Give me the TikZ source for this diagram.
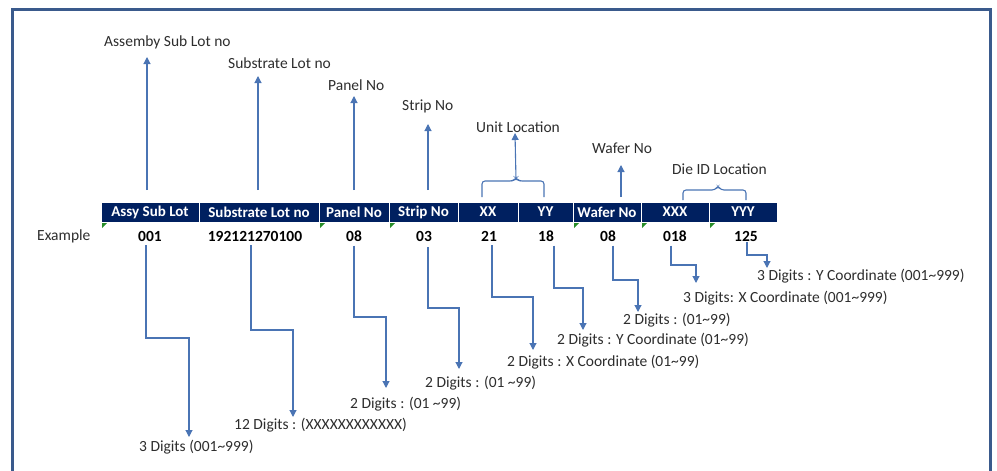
\documentclass[tikz,border=0pt]{standalone}
\usepackage{fontspec}
\setmainfont{Carlito}
\usetikzlibrary{arrows.meta}
\definecolor{frameblue}{RGB}{58,90,140}
\definecolor{navy}{RGB}{0,32,96}
\definecolor{arrblue}{RGB}{74,116,180}
\definecolor{errgreen}{RGB}{40,140,40}
\definecolor{txt}{RGB}{45,45,45}
\tikzset{
  cell/.style={draw=white, line width=0.8pt, fill=navy, text=white, font=\fontsize{15}{18}\selectfont\bfseries, minimum height=20pt, inner sep=0pt, anchor=center},
  val/.style={font=\fontsize{15.5}{18}\selectfont\bfseries, text=black, inner sep=0pt},
  lab/.style={font=\fontsize{15.5}{18}\selectfont, text=txt, inner sep=0pt, anchor=west},
  arr/.style={draw=arrblue, line width=1.1pt, -{Triangle[length=7pt,width=7pt]}},
  brc/.style={draw=arrblue, line width=1.1pt, rounded corners=3pt},
  errtri/.style={fill=errgreen, draw=none}
}
\begin{document}
\begin{tikzpicture}[x=1pt,y=-1pt]
\useasboundingbox (0,0) rectangle (997,471);
% frame
\draw[frameblue, line width=3pt] (12,475) -- (12,9.5) -- (990,9.5) -- (990,475);

% header cells
\node[cell, minimum width=98pt]  (c1) at (150,212)   {Assy Sub Lot};
\node[cell, minimum width=120pt] (c2) at (259,212)   {Substrate Lot no};
\node[cell, minimum width=70pt]  (c3) at (354,212)   {Panel No};
\node[cell, minimum width=69pt]  (c4) at (423.5,212) {Strip No};
\node[cell, minimum width=60pt]  (c5) at (488,212)   {XX};
\node[cell, minimum width=55pt]  (c6) at (545.5,212) {YY};
\node[cell, minimum width=68pt]  (c7) at (607,212)   {Wafer No};
\node[cell, minimum width=68pt]  (c8) at (675,212)   {XXX};
\node[cell, minimum width=68pt]  (c9) at (743,212)   {YYY};

% error triangles
\foreach \x in {101,319,389,573,641,709}{
  \fill[errtri] (\x+1,223) -- (\x+6,223) -- (\x+1,228) -- cycle;
}

% example row
\node[lab] (ex) at (37,236) {Example};
\node[val] (v1) at (150,236) {001};
\node[val] (v2) at (255,236) {192121270100};
\node[val] (v3) at (354,236) {08};
\node[val] (v4) at (424,236) {03};
\node[val] (v5) at (489,236) {21};
\node[val] (v6) at (546,236) {18};
\node[val] (v7) at (608,236) {08};
\node[val] (v8) at (675,236) {018};
\node[val] (v9) at (746,236) {125};

% top labels
\node[lab] (t1) at (104,42)  {Assemby Sub Lot no};
\node[lab] (t2) at (228,63)  {Substrate Lot no};
\node[lab] (t3) at (328,85)  {Panel No};
\node[lab] (t4) at (402,106) {Strip No};
\node[lab] (t5) at (476,127) {Unit Location};
\node[lab] (t6) at (592,148) {Wafer No};
\node[lab] (t7) at (672,169) {Die ID Location};

% top arrows
\coordinate (a1) at (147,190);
\coordinate (a2) at (258,190);
\coordinate (a3) at (354,190);
\coordinate (a4) at (428,190);
\coordinate (a5) at (516,179);
\coordinate (a6) at (621,197);
\draw[arr] (a1) -- (147,57);
\draw[arr] (a2) -- (258,76);
\draw[arr] (a3) -- (354,96);
\draw[arr] (a4) -- (428,124);
\draw[arr] (a5) -- (515,133);
\draw[arr] (a6) -- (621,165);

% braces
\draw[brc] (482,197) -- (482,181) -- (513,181) -- (516,178) -- (519,181) -- (544,181) -- (544,197);
\draw[brc] (683,200) -- (683,190) -- (715,190) -- (718,186) -- (721,190) -- (746,190) -- (746,200);

% bottom labels
\node[lab] (b1) at (139,447) {3 Digits (001\textasciitilde 999)};
\node[lab] (b2) at (234,425) {12 Digits : (XXXXXXXXXXXX)};
\node[lab] (b3) at (350,404) {2 Digits : (01 \textasciitilde 99)};
\node[lab] (b4) at (425,383) {2 Digits : (01 \textasciitilde 99)};
\node[lab] (b5) at (507,362) {2 Digits : X Coordinate (01\textasciitilde 99)};
\node[lab] (b6) at (557,340) {2 Digits : Y Coordinate (01\textasciitilde 99)};
\node[lab] (b7) at (623,320) {2 Digits : (01\textasciitilde 99)};
\node[lab] (b8) at (683,298) {3 Digits: X Coordinate (001\textasciitilde 999)};
\node[lab] (b9) at (757,276) {3 Digits : Y Coordinate (001\textasciitilde 999)};

% bottom elbow arrows
\draw[arr] (v1.south -| 146,0) ++(0,4) -- (146,338) -- (189,338) -- (189,437);
\draw[arr] (v2.south -| 251,0) ++(0,4) -- (251,330) -- (293,330) -- (293,417);
\draw[arr] (v3.south -| 354,0) ++(0,4) -- (354,317) -- (386,317) -- (386,388);
\draw[arr] (v4.south -| 428,0) ++(0,6) -- (428,308) -- (459,308) -- (459,369);
\draw[arr] (v5.south -| 492,0) ++(0,4) -- (492,297) -- (533,297) -- (533,350);
\draw[arr] (v6.south -| 554,0) ++(0,4) -- (554,288) -- (583,288) -- (583,330);
\draw[arr] (v7.south -| 613,0) ++(0,4) -- (613,280) -- (638,280) -- (638,312);
\draw[arr] (v8.south -| 671,0) ++(0,4) -- (671,265) -- (696,265) -- (696,283);
\draw[arr] (v9.south -| 747,0) ++(0,1) -- (747,255) -- (767,255) -- (767,268);
\end{tikzpicture}
\end{document}
